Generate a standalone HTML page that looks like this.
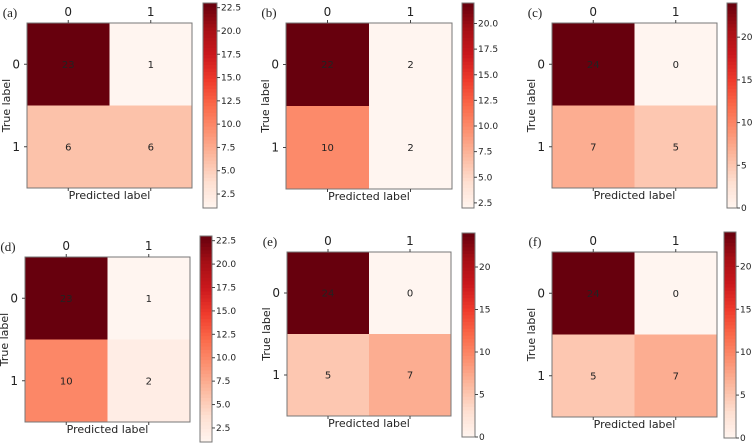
<!DOCTYPE html>
<html><head><meta charset="utf-8"><style>
body{margin:0;background:#fff;}
svg{display:block;font-family:"DejaVu Sans","Liberation Sans",sans-serif;}
</style></head><body>
<svg id="fig" width="753" height="446" viewBox="0 0 753 446" xmlns="http://www.w3.org/2000/svg"></svg>
<script>
const panelLabels = ["(a)","(b)","(c)","(d)","(e)","(f)"];
const matA = [[23,1],[6,6]];
const matB = [[22,2],[10,2]];
const matC = [[24,0],[7,5]];
const matD = [[23,1],[10,2]];
const matE = [[24,0],[5,7]];
const matF = [[24,0],[5,7]];
const classLabels = ["0","1"];
const cbTicksA = [2.5,5.0,7.5,10.0,12.5,15.0,17.5,20.0,22.5];
const cbTicksB = [2.5,5.0,7.5,10.0,12.5,15.0,17.5,20.0];
const cbTicksC = [0,5,10,15,20];
const cbTicksD = [2.5,5.0,7.5,10.0,12.5,15.0,17.5,20.0,22.5];
const cbTicksE = [0,5,10,15,20];
const cbTicksF = [0,5,10,15,20];

const layouts = [
 {mx:27,my:23,ms:165,cx:203,cy:3,cw:14,ch:205,dec:1},
 {mx:286,my:23,ms:166,cx:462,cy:3,cw:12,ch:205,dec:1},
 {mx:552,my:23,ms:165,cx:727,cy:3,cw:10,ch:205,dec:0},
 {mx:25,my:257,ms:165,cx:200,cy:236,cw:12,ch:206,dec:1},
 {mx:287,my:252,ms:164,cx:462,cy:233,cw:13,ch:204,dec:0},
 {mx:552,my:252,ms:165,cx:724,cy:232,cw:12,ch:206,dec:0}
];
const mats=[matA,matB,matC,matD,matE,matF];
const ticks=[cbTicksA,cbTicksB,cbTicksC,cbTicksD,cbTicksE,cbTicksF];
const stops=["#fff5f0","#fee0d2","#fcbba1","#fc9272","#fb6a4a","#ef3b2c","#cb181d","#a50f15","#67000d"];
function hx(h){return [1,3,5].map(i=>parseInt(h.substr(i,2),16));}
function reds(t){t=Math.max(0,Math.min(1,t));const p=t*(stops.length-1);const i=Math.min(Math.floor(p),stops.length-2);const f=p-i;const a=hx(stops[i]),b=hx(stops[i+1]);return "rgb("+a.map((v,k)=>Math.round(v+(b[k]-v)*f)).join(",")+")";}
const NS="http://www.w3.org/2000/svg";
const svg=document.getElementById("fig");
function el(tag,attrs,parent){const e=document.createElementNS(NS,tag);for(const k in attrs)e.setAttribute(k,attrs[k]);(parent||svg).appendChild(e);return e;}
mats.forEach((m,pi)=>{
 const L=layouts[pi];
 const g=el("g",{});
 
 
 const flat=m.flat();const vmin=Math.min(...flat),vmax=Math.max(...flat);
 const cs=L.ms/2;
 const xs=c=>L.mx+c*cs, ys=r=>L.my+r*cs;
 m.forEach((row,r)=>row.forEach((v,c)=>{
  const rc=el("rect",{x:xs(c),y:ys(r),width:cs+0.5,height:cs+0.5,fill:reds((v-vmin)/(vmax-vmin))},g);
  
  
  const t=el("text",{x:xs(c)+cs/2,y:ys(r)+cs/2+3.5,"font-size":"10","text-anchor":"middle",fill:"#222"},g);
  t.textContent=v;
  
  
 }));
 el("rect",{x:L.mx,y:L.my,width:L.ms,height:L.ms,fill:"none",stroke:"#777","stroke-width":1},g);
 classLabels.forEach((lab,i)=>{
  const cx=xs(i)+cs/2, cy=ys(i)+cs/2;
  el("line",{x1:cx,y1:L.my,x2:cx,y2:L.my-3,stroke:"#444"},g);
  el("line",{x1:cx,y1:L.my+L.ms,x2:cx,y2:L.my+L.ms+3,stroke:"#444"},g);
  const tx=el("text",{x:cx,y:L.my-7,"font-size":"12","text-anchor":"middle",fill:"#222"},g);tx.textContent=lab;
  
  
  el("line",{x1:L.mx,y1:cy,x2:L.mx-3,y2:cy,stroke:"#444"},g);
  const ty=el("text",{x:L.mx-7,y:cy+4,"font-size":"12","text-anchor":"end",fill:"#222"},g);ty.textContent=lab;
  
  
 });
 const xt=el("text",{x:L.mx+L.ms/2,y:L.my+L.ms+11,"font-size":"11","text-anchor":"middle",fill:"#222"},g);xt.textContent="Predicted label";
 
 
 const yx=L.mx-17, yy=L.my+L.ms/2;
 const yt=el("text",{x:yx,y:yy,"font-size":"11","text-anchor":"middle",fill:"#222",transform:"rotate(-90 "+yx+" "+yy+")"},g);yt.textContent="True label";
 
 
 const pl=el("text",{x:L.mx-17,y:L.my-6,"font-size":"13","text-anchor":"middle",fill:"#222","font-family":"Liberation Serif,serif"},g);pl.textContent=panelLabels[pi];
 
 
 const N=60,sh=L.ch/N;
 for(let k=0;k<N;k++){
  el("rect",{x:L.cx,y:L.cy+L.ch-(k+1)*sh,width:L.cw,height:sh+0.6,fill:reds((k+0.5)/N)},g);
 }
 const cb=el("rect",{x:L.cx,y:L.cy,width:L.cw,height:L.ch,fill:"none",stroke:"#777"},g);
 
 
 const cyv=v=>L.cy+L.ch-(v-vmin)/(vmax-vmin)*L.ch;
 ticks[pi].forEach(v=>{
  const y=cyv(v);
  el("line",{x1:L.cx+L.cw,y1:y,x2:L.cx+L.cw+3,y2:y,stroke:"#444"},g);
  const t=el("text",{x:L.cx+L.cw+4,y:y+3,"font-size":"9",fill:"#222"},g);t.textContent=v.toFixed(L.dec);
  
  
 });
});
</script>
</body></html>
